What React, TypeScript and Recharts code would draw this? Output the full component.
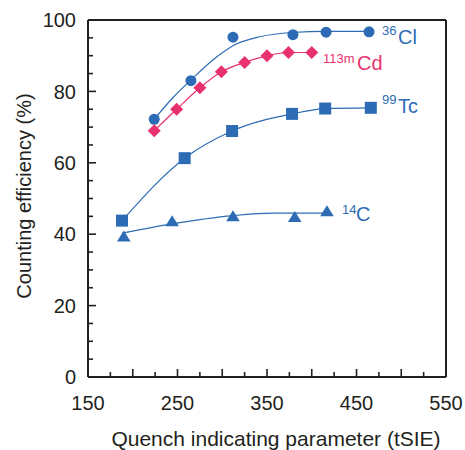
import { ComposedChart, Line, Scatter, XAxis, YAxis } from "recharts";

const BLUE = "#2d6cb5";
const PINK = "#e8326f";
const INK = "#231f20";
const FONT = "'Liberation Sans', Arial, Helvetica, sans-serif";

// tick positions and labels
const xTickValues = [150, 175, 200, 225, 250, 275, 300, 325, 350, 375, 400, 425, 450, 475, 500, 525, 550];
const xTickLabels = [150, 250, 350, 450, 550];
const yTickValues = [0, 5, 10, 15, 20, 25, 30, 35, 40, 45, 50, 55, 60, 65, 70, 75, 80, 85, 90, 95, 100];
const yTickLabels = [0, 20, 40, 60, 80, 100];

// 36Cl
const clX = [224, 265, 312, 379, 416, 464];
const clY = [72.2, 83.0, 95.2, 95.9, 96.6, 96.7];
const clFitX = [224, 245, 265, 294, 312, 342, 378, 416, 464];
const clFitY = [72.2, 78.3, 83.2, 89.7, 92.8, 95.3, 96.5, 96.8, 96.8];

// 113mCd
const cdX = [224, 249, 275, 299, 325, 350, 374, 400];
const cdY = [69.0, 75.0, 81.0, 85.5, 88.1, 90.0, 90.9, 90.9];

// 99Tc
const tcX = [188, 258, 311, 378, 415, 466];
const tcY = [43.8, 61.3, 68.9, 73.7, 75.2, 75.4];

// 14C
const cX = [190, 244, 312, 381, 417];
const cY = [39.2, 43.5, 44.9, 44.7, 46.3];
const cFitX = [188, 244, 312, 357, 417];
const cFitY = [40.3, 42.9, 45.2, 45.9, 45.9];

const pts = (xs: number[], ys: number[]) => xs.map((x, i) => ({ x, y: ys[i] }));

// plot box (from the chart margins + axis sizes below)
const W = 465;
const H = 450;
const M = { top: 19, right: 18, bottom: 33, left: 28 };
const PL = M.left + 60;
const PR = W - M.right - 1;
const PT = M.top + 1;
const PB = H - M.bottom - 40;
const sx = (v: number) => PL + ((v - 150) / 400) * (PR - PL);
const sy = (v: number) => PB - (v / 100) * (PB - PT);

const XTick = (props: any) => {
  const { x, y, payload } = props;
  const v = payload.value;
  if (!xTickLabels.includes(v)) return <g />;
  return (
    <text x={x} y={y + 33} textAnchor="middle" fontSize={20} fill={INK} stroke="none" fontFamily={FONT}>
      {v}
    </text>
  );
};

const YTick = (props: any) => {
  const { x, y, payload } = props;
  const v = payload.value;
  if (!yTickLabels.includes(v)) return <g />;
  return (
    <text x={x - 12} y={y} dy="0.36em" textAnchor="end" fontSize={20} fill={INK} stroke="none" fontFamily={FONT}>
      {v}
    </text>
  );
};

const Dot = (p: any) => <circle cx={p.cx} cy={p.cy} r={5.5} fill={BLUE} />;
const Square = (p: any) => <rect x={p.cx - 6} y={p.cy - 6} width={12} height={12} fill={BLUE} />;
const Diamond = (p: any) => (
  <path d={`M${p.cx},${p.cy - 6.5}L${p.cx + 6.5},${p.cy}L${p.cx},${p.cy + 6.5}L${p.cx - 6.5},${p.cy}Z`} fill={PINK} />
);
const Tri = (p: any) => (
  <path d={`M${p.cx},${p.cy - 6.5}L${p.cx + 6.8},${p.cy + 4.5}L${p.cx - 6.8},${p.cy + 4.5}Z`} fill={BLUE} />
);

const labels = [
  { sup: "36", main: "Cl", sx: 382, sy: 35, mx: 398, my: 44, color: BLUE },
  { sup: "113m", main: "Cd", sx: 323, sy: 63, mx: 357, my: 70, color: PINK },
  { sup: "99", main: "Tc", sx: 382, sy: 104, mx: 398, my: 113, color: BLUE },
  { sup: "14", main: "C", sx: 342, sy: 213.5, mx: 356, my: 221, color: BLUE },
];

const frame = { stroke: INK, strokeWidth: 2 };

export default function App() {
  return (
    <div style={{ position: "absolute", left: 0, top: 0, width: W, height: H, background: "#fff" }}>
      <div style={{ position: "absolute", left: 0, top: 0 }}>
        <ComposedChart width={W} height={H} margin={M}>
          <XAxis
            type="number"
            dataKey="x"
            domain={[150, 550]}
            ticks={xTickValues}
            interval={0}
            height={40}
            tickSize={0}
            tickMargin={0}
            axisLine={frame}
            tickLine={false}
            tick={<XTick />}
          />
          <XAxis xAxisId="top" orientation="top" type="number" domain={[150, 550]} height={1} tick={false} tickLine={false} axisLine={frame} />
          <YAxis
            type="number"
            dataKey="y"
            domain={[0, 100]}
            ticks={yTickValues}
            interval={0}
            width={60}
            tickSize={0}
            tickMargin={0}
            axisLine={frame}
            tickLine={false}
            tick={<YTick />}
          />
          <YAxis yAxisId="right" orientation="right" type="number" domain={[0, 100]} width={1} tick={false} tickLine={false} axisLine={frame} />
          <Line data={pts(clFitX, clFitY)} dataKey="y" type="monotone" stroke={BLUE} strokeWidth={1.2} dot={false} isAnimationActive={false} />
          <Line data={pts(cdX, cdY)} dataKey="y" type="monotone" stroke={PINK} strokeWidth={1.2} dot={false} isAnimationActive={false} />
          <Line data={pts(tcX, tcY)} dataKey="y" type="monotone" stroke={BLUE} strokeWidth={1.2} dot={false} isAnimationActive={false} />
          <Line data={pts(cFitX, cFitY)} dataKey="y" type="monotone" stroke={BLUE} strokeWidth={1.2} dot={false} isAnimationActive={false} />
          <Scatter data={pts(clX, clY)} shape={<Dot />} isAnimationActive={false} />
          <Scatter data={pts(cdX, cdY)} shape={<Diamond />} isAnimationActive={false} />
          <Scatter data={pts(tcX, tcY)} shape={<Square />} isAnimationActive={false} />
          <Scatter data={pts(cX, cY)} shape={<Tri />} isAnimationActive={false} />
        </ComposedChart>
      </div>
      <svg width={W} height={H} style={{ position: "absolute", left: 0, top: 0, pointerEvents: "none" }}>
        {xTickValues
          .filter((v) => v > 150 && v < 550)
          .map((v) => (
            <line key={`xt${v}`} x1={sx(v)} x2={sx(v)} y1={PB} y2={PB - (v % 50 === 0 ? 8 : 5)} stroke={INK} strokeWidth={1.6} />
          ))}
        {yTickValues
          .filter((v) => v > 0 && v < 100)
          .map((v) => (
            <line key={`yt${v}`} x1={PL} x2={PL + (v % 20 === 0 ? 8 : 5)} y1={sy(v)} y2={sy(v)} stroke={INK} strokeWidth={1.6} />
          ))}
        {labels.map((l) => (
          <g key={l.main} fill={l.color} fontFamily={FONT}>
            <text x={l.sx} y={l.sy} fontSize={13}>{l.sup}</text>
            <text x={l.mx} y={l.my} fontSize={20}>{l.main}</text>
          </g>
        ))}
        <text x={276} y={446} textAnchor="middle" fontSize={21} fill={INK} fontFamily={FONT}>
          Quench indicating parameter (tSIE)
        </text>
        <text
          x={31}
          y={196}
          transform="rotate(-90 31 196)"
          textAnchor="middle"
          fontSize={20}
          fill={INK}
          fontFamily={FONT}
        >
          Counting efficiency (%)
        </text>
      </svg>
    </div>
  );
}
